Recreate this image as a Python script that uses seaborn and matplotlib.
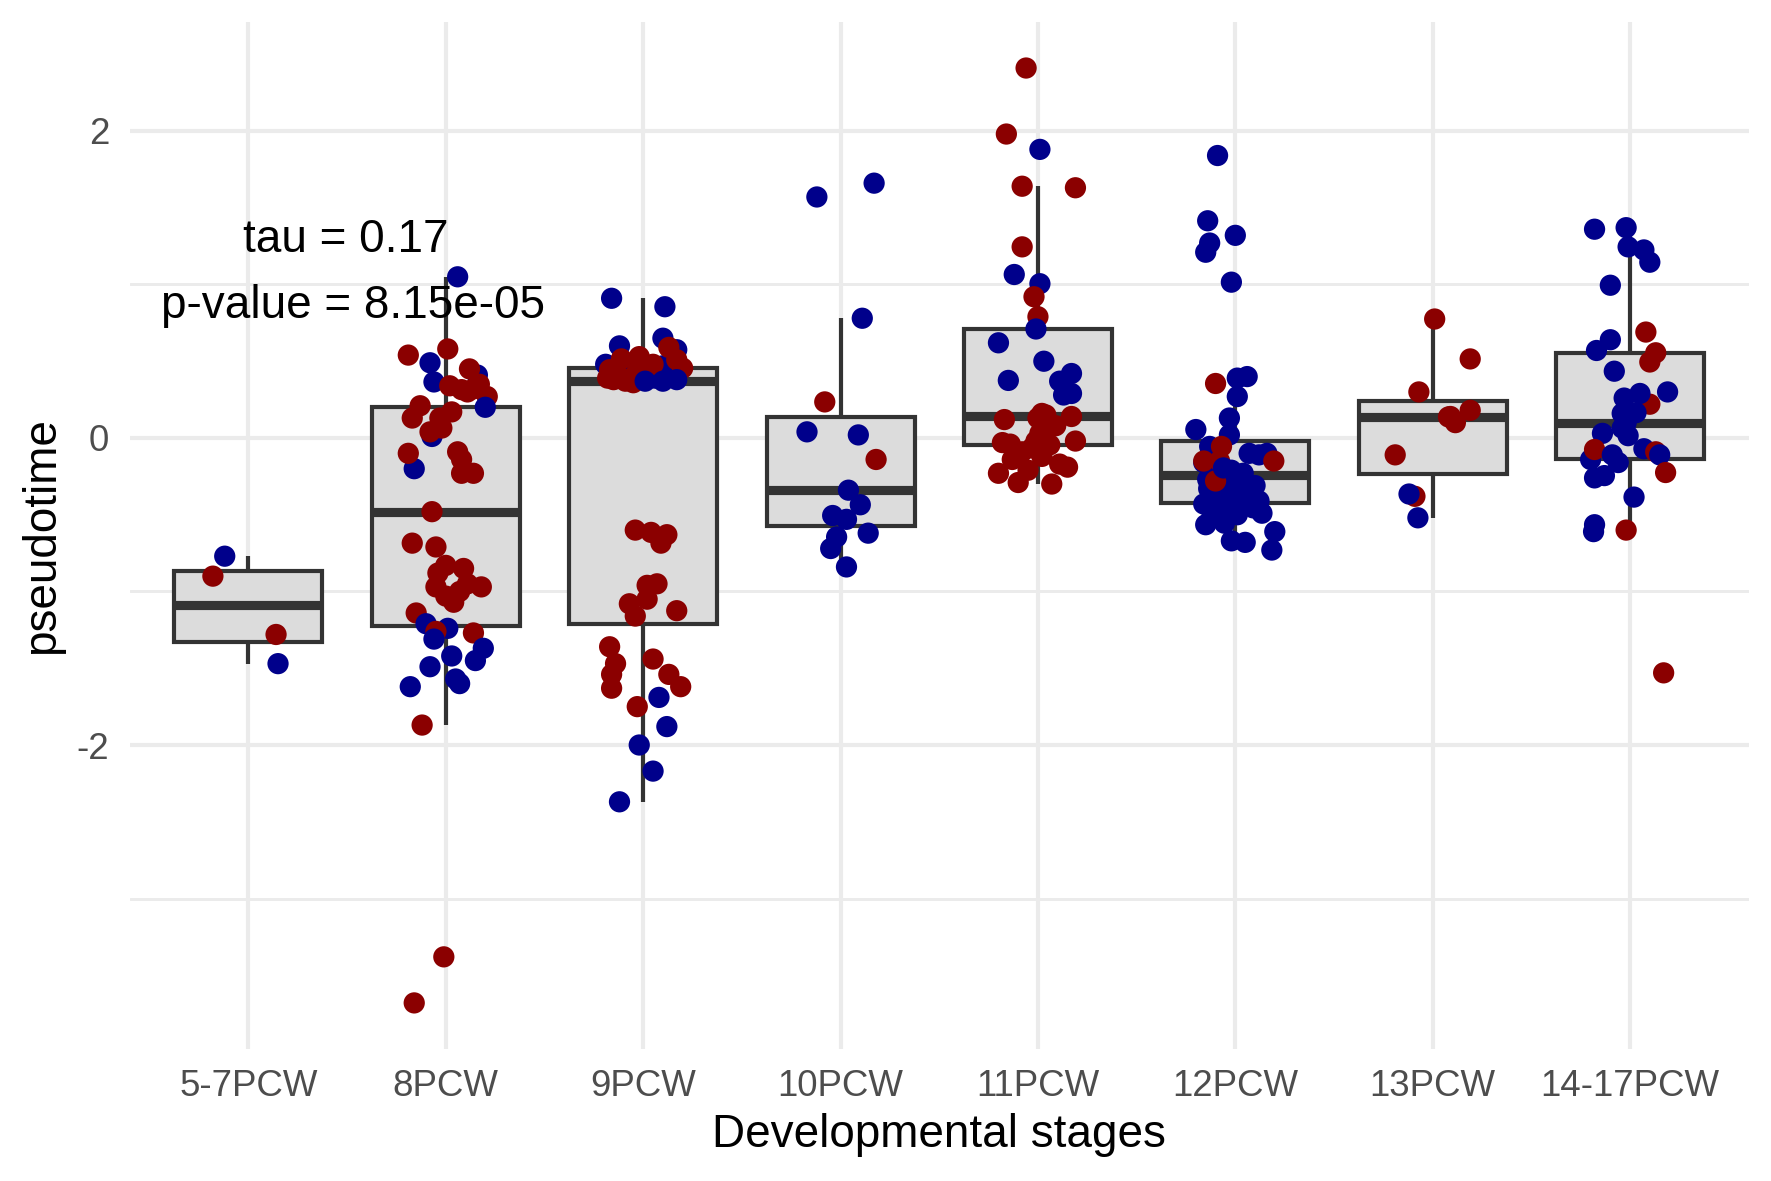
import matplotlib
matplotlib.use("Agg")
import matplotlib.pyplot as plt
import seaborn as sns
import pandas as pd

# stages on the x axis
stages = ["5-7PCW", "8PCW", "9PCW", "10PCW", "11PCW", "12PCW", "13PCW", "14-17PCW"]

# points per stage: (pseudotime, horizontal jitter, group)  R = dark red, B = dark blue
pcw5_7 = [(-0.77, -0.12, "B"), (-0.90, -0.18, "R"), (-1.28, 0.14, "R"), (-1.47, 0.15, "B")]

pcw8 = [(1.05, 0.06, "B"), (0.54, -0.19, "R"), (0.58, 0.01, "R"), (0.49, -0.08, "B"), (0.365, -0.06, "B"),
        (0.41, 0.16, "B"), (0.45, 0.12, "R"), (0.35, 0.17, "R"), (0.315, 0.08, "R"), (0.27, 0.21, "R"),
        (0.34, 0.02, "R"), (0.30, 0.11, "R"), (0.32, 0.14, "R"), (0.20, 0.20, "B"), (0.21, -0.13, "R"),
        (0.13, -0.17, "R"), (0.17, 0.03, "R"), (0.01, -0.07, "B"), (0.13, -0.03, "R"), (0.065, -0.02, "R"),
        (0.04, -0.08, "R"), (-0.20, -0.16, "B"), (-0.10, -0.19, "R"), (-0.09, 0.06, "R"), (-0.14, 0.08, "R"),
        (-0.23, 0.08, "R"), (-0.23, 0.14, "R"), (-0.48, -0.07, "R"), (-0.685, -0.17, "R"), (-0.71, -0.05, "R"),
        (-0.83, 0.0, "R"), (-0.85, 0.09, "R"), (-0.88, -0.04, "R"), (-0.97, 0.18, "R"), (-0.97, -0.05, "R"),
        (-0.95, 0.11, "R"), (-1.0, 0.07, "R"), (-1.07, 0.04, "R"), (-1.03, 0.0, "R"), (-1.14, -0.15, "R"),
        (-1.21, -0.10, "B"), (-1.24, 0.01, "B"), (-1.26, -0.05, "R"), (-1.31, -0.06, "B"), (-1.27, 0.14, "R"),
        (-1.37, 0.19, "B"), (-1.45, 0.15, "B"), (-1.42, 0.03, "B"), (-1.49, -0.08, "B"), (-1.57, 0.05, "B"),
        (-1.60, 0.07, "B"), (-1.62, -0.18, "B"), (-1.87, -0.12, "R"), (-3.38, -0.01, "R"), (-3.68, -0.16, "R")]

pcw9 = [(0.91, -0.16, "B"), (0.855, 0.11, "B"), (0.65, 0.10, "B"), (0.60, -0.12, "B"), (0.575, 0.17, "B"),
        (0.48, -0.19, "B"), (0.455, -0.06, "B"), (0.47, 0.10, "B"), (0.41, 0.14, "B"), (0.43, 0.04, "B"),
        (0.39, 0.06, "B"), (0.40, 0.13, "B"),
        (0.59, 0.13, "R"), (0.51, 0.17, "R"), (0.455, 0.20, "R"), (0.53, -0.02, "R"), (0.515, -0.11, "R"),
        (0.48, 0.05, "R"), (0.445, -0.17, "R"), (0.435, -0.03, "R"), (0.39, -0.18, "R"), (0.37, -0.09, "R"),
        (0.38, -0.15, "R"), (0.40, -0.12, "R"), (0.42, 0.0, "R"), (0.36, -0.05, "R"),
        (0.37, 0.01, "B"), (0.37, 0.10, "B"), (0.38, 0.17, "B"),
        (-0.60, -0.04, "R"), (-0.615, 0.04, "R"), (-0.63, 0.12, "R"), (-0.685, 0.09, "R"), (-0.95, 0.07, "R"),
        (-0.96, 0.02, "R"), (-1.05, 0.02, "R"), (-1.08, -0.07, "R"), (-1.125, 0.17, "R"), (-1.16, -0.04, "R"),
        (-1.36, -0.17, "R"), (-1.44, 0.05, "R"), (-1.47, -0.14, "R"), (-1.54, 0.13, "R"), (-1.54, -0.16, "R"),
        (-1.62, 0.19, "R"), (-1.63, -0.16, "R"), (-1.69, 0.08, "B"), (-1.75, -0.03, "R"), (-1.88, 0.12, "B"),
        (-2.0, -0.02, "B"), (-2.17, 0.05, "B"), (-2.37, -0.12, "B")]

pcw10 = [(1.57, -0.12, "B"), (1.66, 0.17, "B"), (0.78, 0.11, "B"), (0.235, -0.08, "R"), (0.04, -0.17, "B"),
         (0.02, 0.09, "B"), (-0.14, 0.18, "R"), (-0.34, 0.04, "B"), (-0.435, 0.10, "B"), (-0.505, -0.04, "B"),
         (-0.53, 0.03, "B"), (-0.645, -0.02, "B"), (-0.62, 0.14, "B"), (-0.72, -0.05, "B"), (-0.84, 0.03, "B")]

pcw11 = [(2.41, -0.06, "R"), (1.98, -0.16, "R"), (1.88, 0.01, "B"), (1.64, -0.08, "R"), (1.63, 0.19, "R"),
         (1.245, -0.08, "R"), (1.065, -0.12, "B"), (1.005, 0.01, "B"), (0.92, -0.02, "R"), (0.79, 0.0, "R"),
         (0.71, -0.01, "B"), (0.62, -0.20, "B"), (0.50, 0.03, "B"), (0.375, -0.15, "B"), (0.42, 0.17, "B"),
         (0.37, 0.11, "B"), (0.29, 0.17, "B"), (0.28, 0.13, "B"),
         (0.12, -0.17, "R"), (0.16, 0.02, "R"), (0.14, 0.17, "R"), (0.15, 0.04, "R"), (0.13, 0.0, "R"),
         (0.08, 0.09, "R"), (0.055, 0.03, "R"), (0.03, 0.01, "R"), (-0.02, 0.19, "R"), (-0.03, -0.18, "R"),
         (-0.04, -0.14, "R"), (-0.045, 0.06, "R"), (-0.02, -0.01, "R"), (-0.065, -0.03, "R"), (-0.09, -0.08, "R"),
         (-0.12, 0.02, "R"), (-0.14, -0.13, "R"), (-0.17, 0.11, "R"), (-0.19, 0.15, "R"), (-0.21, -0.05, "R"),
         (-0.23, -0.20, "R"), (-0.29, -0.10, "R"), (-0.30, 0.07, "R")]

pcw12 = [(1.84, -0.09, "B"), (1.415, -0.14, "B"), (1.32, 0.0, "B"), (1.27, -0.13, "B"), (1.21, -0.15, "B"),
         (1.015, -0.02, "B"), (0.355, -0.10, "R"), (0.40, 0.06, "B"), (0.39, 0.01, "B"), (0.27, 0.01, "B"),
         (0.13, -0.03, "B"), (0.055, -0.20, "B"), (0.02, -0.03, "B"), (-0.055, -0.13, "B"), (-0.10, 0.07, "B"),
         (-0.11, 0.12, "B"), (-0.10, 0.16, "B"), (-0.16, -0.16, "B"), (-0.27, -0.14, "B"), (-0.28, 0.0, "B"),
         (-0.31, 0.10, "B"), (-0.33, -0.135, "B"), (-0.37, 0.03, "B"), (-0.38, -0.03, "B"), (-0.38, -0.11, "B"),
         (-0.43, -0.16, "B"), (-0.455, 0.09, "B"), (-0.49, 0.135, "B"), (-0.49, -0.07, "B"), (-0.50, 0.01, "B"),
         (-0.555, -0.055, "B"), (-0.565, -0.15, "B"), (-0.61, 0.20, "B"), (-0.67, -0.02, "B"), (-0.68, 0.05, "B"),
         (-0.73, 0.185, "B"),
         (-0.21, -0.02, "B"), (-0.23, 0.04, "B"), (-0.24, -0.08, "B"), (-0.35, -0.06, "B"), (-0.40, 0.06, "B"),
         (-0.42, -0.09, "B"), (-0.44, 0.02, "B"), (-0.41, 0.12, "B"), (-0.52, -0.12, "B"),
         (-0.055, -0.07, "R"), (-0.15, 0.195, "R"), (-0.15, -0.16, "R"), (-0.15, -0.08, "R"), (-0.28, -0.10, "R"),
         (-0.195, -0.06, "B")]

pcw13 = [(0.775, 0.01, "R"), (0.515, 0.19, "R"), (0.30, -0.07, "R"), (0.18, 0.19, "R"), (0.137, 0.08, "R"),
         (0.14, 0.09, "R"), (0.10, 0.115, "R"), (-0.11, -0.19, "R"), (-0.38, -0.09, "R"), (-0.365, -0.12, "B"),
         (-0.52, -0.075, "B")]

pcw14_17 = [(1.36, -0.18, "B"), (1.37, -0.02, "B"), (1.245, -0.01, "B"), (1.225, 0.07, "B"), (1.145, 0.10, "B"),
            (0.995, -0.10, "B"), (0.69, 0.08, "R"), (0.64, -0.10, "B"), (0.57, -0.17, "B"), (0.555, 0.13, "R"),
            (0.495, 0.10, "R"), (0.435, -0.08, "B"), (0.22, 0.10, "R"), (0.30, 0.19, "B"), (0.29, 0.05, "B"),
            (0.26, -0.03, "B"), (0.165, 0.03, "B"), (0.16, -0.04, "B"), (0.10, -0.02, "B"), (0.065, -0.04, "B"),
            (0.015, -0.01, "B"), (0.03, -0.14, "B"), (-0.14, -0.20, "B"), (-0.075, -0.18, "R"), (-0.11, -0.09, "B"),
            (-0.07, 0.07, "B"), (-0.09, 0.13, "R"), (-0.11, 0.15, "B"), (-0.16, -0.06, "B"), (-0.225, 0.18, "R"),
            (-0.26, -0.18, "B"), (-0.245, -0.13, "B"), (-0.385, 0.02, "B"), (-0.565, -0.18, "B"), (-0.61, -0.185, "B"),
            (-0.60, -0.02, "R"), (-1.53, 0.17, "R")]

tau_text = "tau = 0.17"
p_text = "p-value = 8.15e-05"

groups = [pcw5_7, pcw8, pcw9, pcw10, pcw11, pcw12, pcw13, pcw14_17]
rows = []
for i, (st, pts) in enumerate(zip(stages, groups)):
    for v, j, g in pts:
        rows.append({"stage": st, "pseudotime": v, "xpos": i + j, "group": g})
df = pd.DataFrame(rows)

sns.set_theme(style="white")
plt.rcParams["font.family"] = ["Liberation Sans", "DejaVu Sans"]
plt.rcParams["axes.unicode_minus"] = False

fig = plt.figure(figsize=(1771 / 300, 1181 / 300), dpi=300)
ax = fig.add_axes([0.0734, 0.1118, 0.9139, 0.8696])

# whiskers cut at 1.5 IQR, outliers hidden (jittered points show them)
sns.boxplot(data=df, x="stage", y="pseudotime", order=stages, showfliers=False, showcaps=False,
            width=0.75, linecolor="#333333", linewidth=1.0, saturation=1,
            boxprops=dict(facecolor="#DCDCDC"), medianprops=dict(linewidth=2.2), ax=ax)

sns.scatterplot(data=df, x="xpos", y="pseudotime", hue="group",
                palette={"R": "#8B0000", "B": "#00008B"}, s=26, linewidth=0,
                legend=False, zorder=3, ax=ax)

ax.text(0.495, 1.21, tau_text, ha="center", va="baseline", fontsize=11, color="black")
ax.text(0.53, 0.78, p_text, ha="center", va="baseline", fontsize=11, color="black")

ax.set_xlim(-0.6, 7.6)
ax.set_ylim(-3.98, 2.71)
ax.set_xticks(range(len(stages)))
ax.set_xticklabels(stages)
ax.set_yticks([-2, 0, 2])
ax.set_yticks([-3, -1, 1], minor=True)
ax.set_axisbelow(True)
ax.grid(True, which="major", color="#EBEBEB", linewidth=1.0)
ax.grid(True, which="minor", axis="y", color="#EBEBEB", linewidth=0.7)
for s in ax.spines.values():
    s.set_visible(False)
ax.tick_params(axis="both", which="both", length=0, labelsize=8.8, labelcolor="#4D4D4D")
ax.tick_params(axis="x", pad=4.8)
ax.tick_params(axis="y", pad=5)
ax.set_xlabel("Developmental stages", fontsize=11, color="black", labelpad=2.2)
ax.set_ylabel("pseudotime", fontsize=11, color="black", labelpad=3)

plt.savefig("out.png", dpi=300)
